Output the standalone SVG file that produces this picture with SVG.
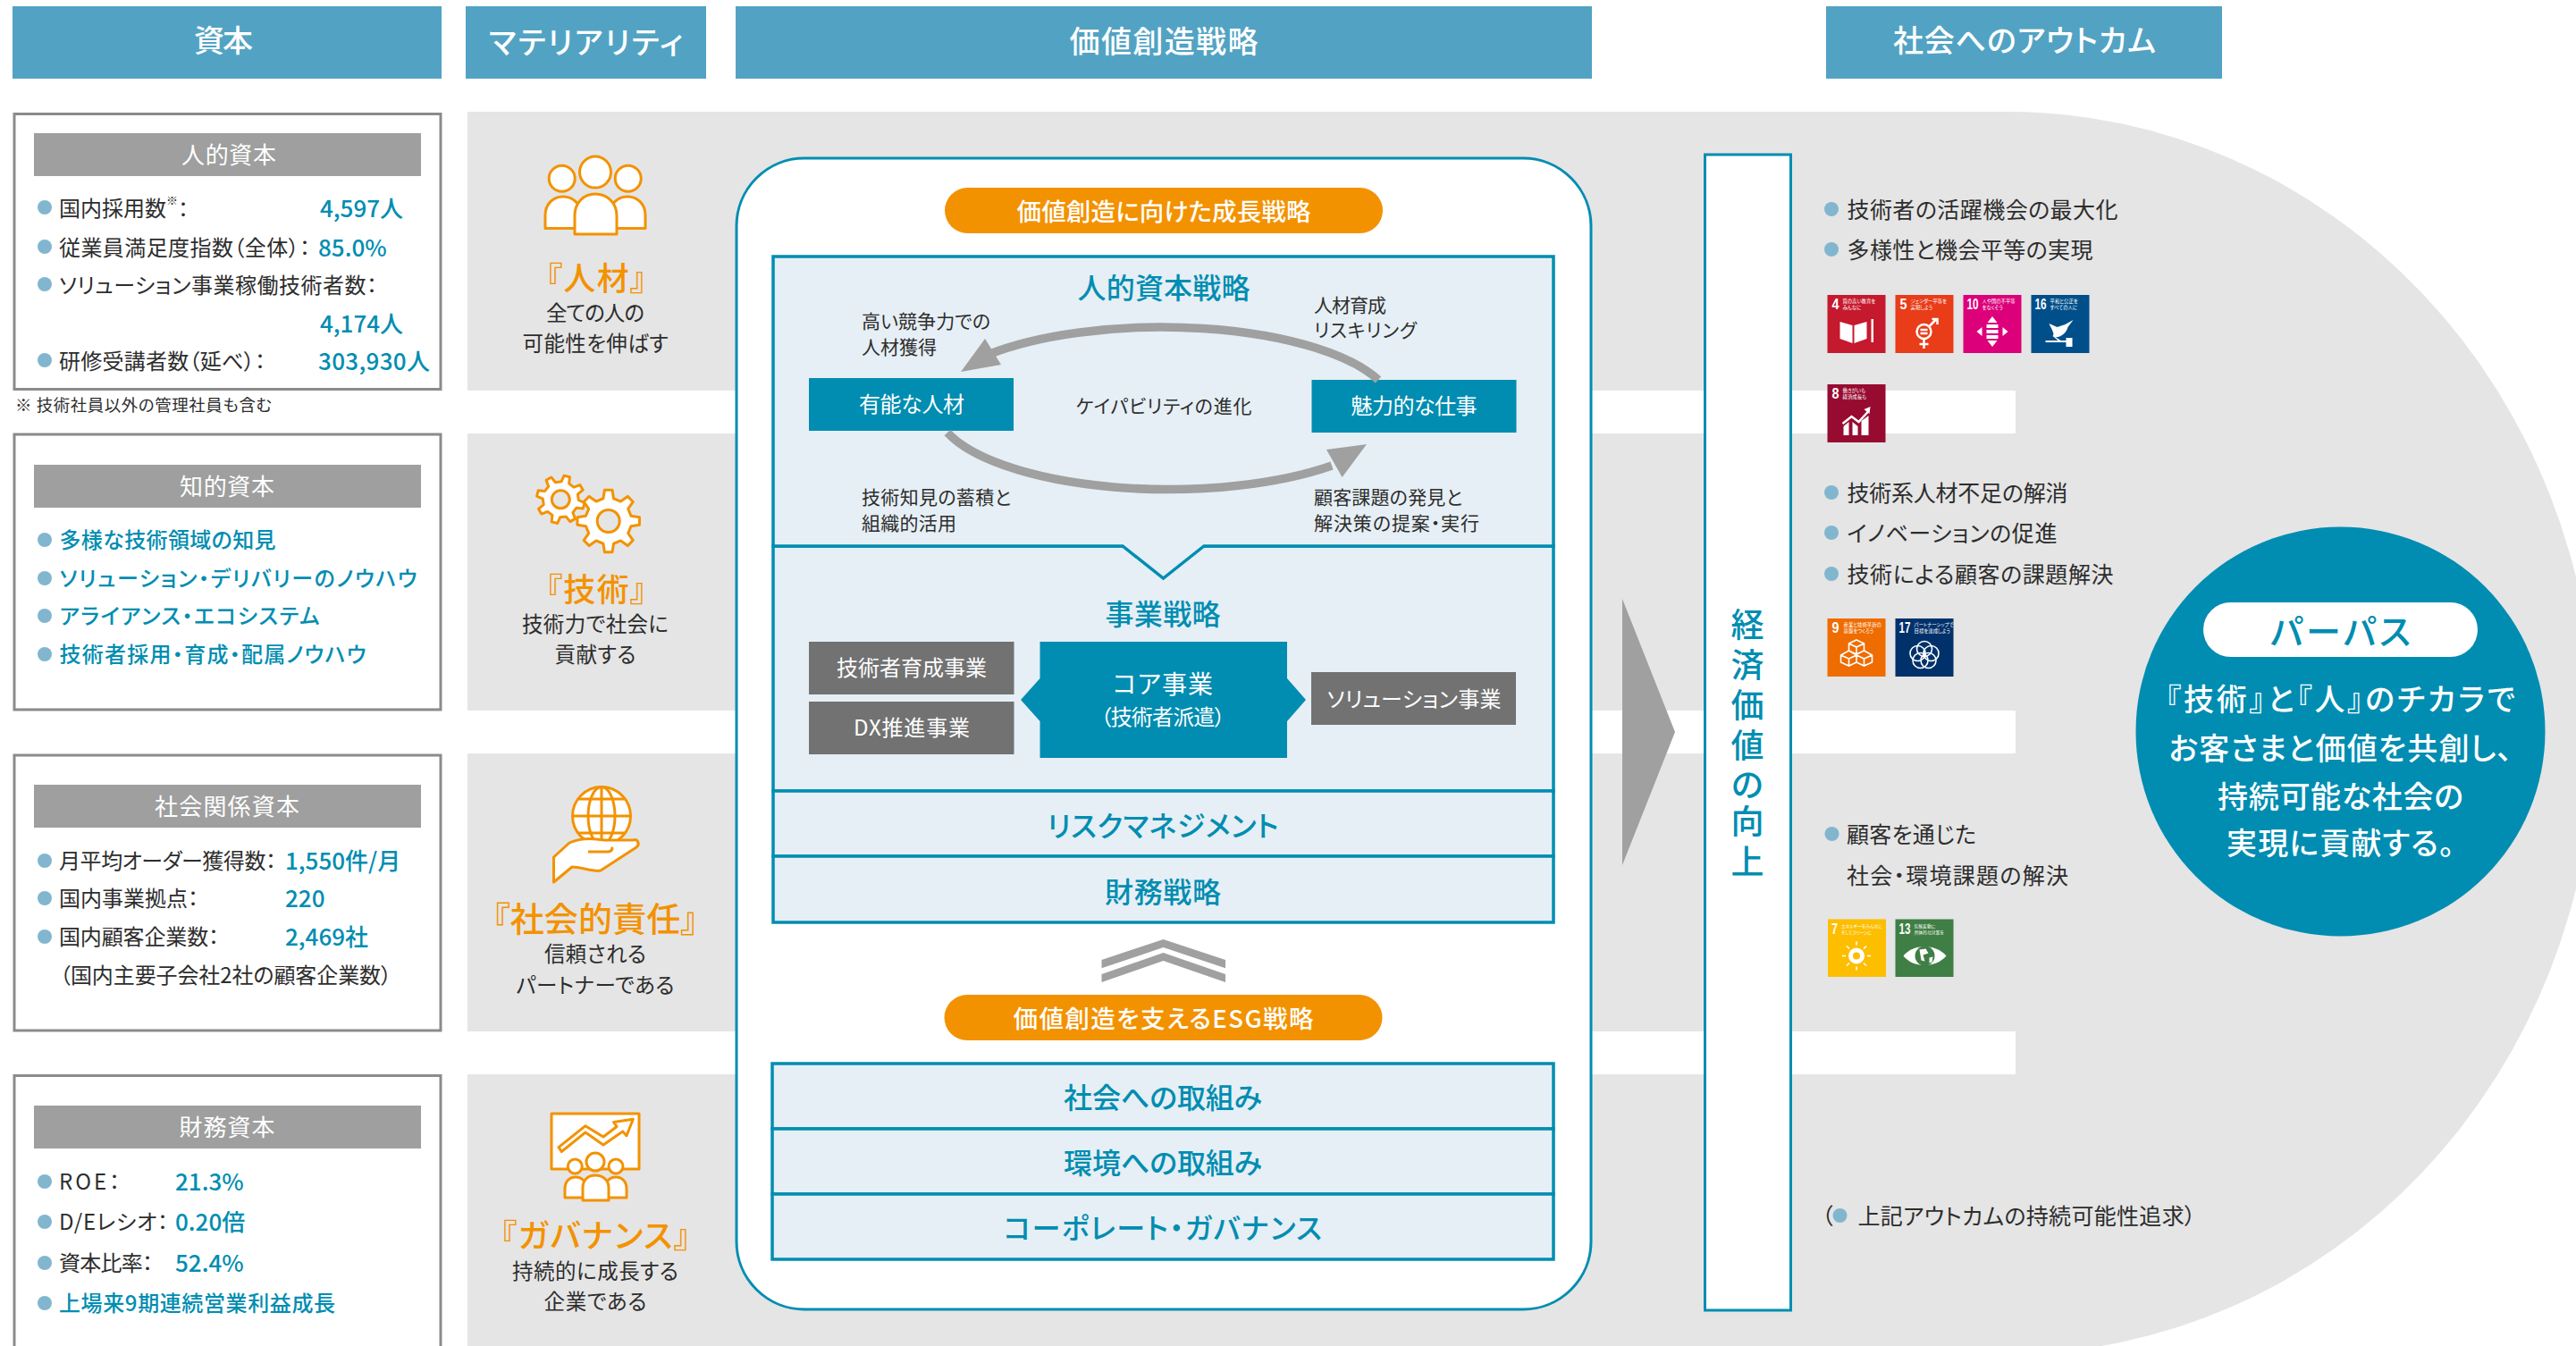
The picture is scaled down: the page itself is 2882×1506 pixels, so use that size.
<svg xmlns="http://www.w3.org/2000/svg" width="2882" height="1506" viewBox="0 0 2882 1506">
<style>
text{font-family:"Noto Sans CJK JP","Noto Sans",sans-serif;font-feature-settings:"palt";dominant-baseline:central;fill:#2d2d2d;transform:translateY(-1.5px)}
.m{text-anchor:middle}
.hd{fill:#52a3c3}.ht{font-size:34px;fill:#fff;text-anchor:middle;font-weight:500}
.box{fill:#fff;stroke:#8b8b8b;stroke-width:3}
.bar{fill:#9e9f9e}.bt{font-size:26px;fill:#fff;text-anchor:middle}
.dot{fill:#82b6cf}
.t24{font-size:24px}.t25{font-size:25px}.t21{font-size:21px}
.v{font-size:26px;fill:#008db1;font-weight:500}
.tb{font-size:24px;fill:#008db1;font-weight:500}
.mt{font-size:36px;fill:#f39200;text-anchor:middle;font-weight:500}
.ms{font-size:23.5px;text-anchor:middle}
.ic{fill:#fff;stroke:#f39200;stroke-width:3;stroke-linejoin:round}
.ln{fill:none;stroke:#f39200;stroke-width:3}
.pn{fill:#e6eff5;stroke:#008db1;stroke-width:3.5}
.pt{font-size:32px;fill:#008db1;text-anchor:middle;font-weight:500}
.pill{fill:#f39200}.plt{font-size:27.5px;fill:#fff;text-anchor:middle;font-weight:500}
.tl{fill:#008db1}.g{fill:#727272}
.wt{font-size:24px;fill:#fff;text-anchor:middle}
.arc{fill:none;stroke:#9fa09f;stroke-width:9.5}
.hv{fill:#9fa09f}
.pp{font-size:34px;fill:#fff;text-anchor:middle;font-weight:500}
.sn{font-family:"Liberation Sans",sans-serif;font-size:17px;font-weight:700;fill:#fff}
.st{font-size:5.4px;fill:#fff}
.wf{fill:#fff}.ws{fill:none;stroke:#fff;stroke-width:1.6}
</style>
<defs>
<path id="gear" d="M-12.19-99.25L12.19-99.25L16.65-72.1L39.21-62.76L61.57-78.8L78.8-61.57L62.76-39.21L72.1-16.65L99.25-12.19L99.25,12.19L72.1,16.65L62.76,39.21L78.8,61.57L61.57,78.8L39.21,62.76L16.65,72.1L12.19,99.25L-12.19,99.25L-16.65,72.1L-39.21,62.76L-61.57,78.8L-78.8,61.57L-62.76,39.21L-72.1,16.65L-99.25,12.19L-99.25-12.19L-72.1-16.65L-62.76-39.21L-78.8-61.57L-61.57-78.8L-39.21-62.76L-16.65-72.1Z"/>
</defs>
<rect width="2882" height="1506" fill="#fff"/>
<g id="background">
<path fill="#e5e5e5" d="M523,125H2245A658,695 0 0 1 2245,1515H523Z"/>
<rect x="523" y="437" width="1732" height="48" fill="#fff"/>
<rect x="523" y="795" width="1732" height="48" fill="#fff"/>
<rect x="523" y="1154" width="1732" height="48" fill="#fff"/>
</g>
<g id="headers">
<g id="header-capital"><rect class="hd" x="14" y="7" width="480" height="81"/><text class="ht" x="250" y="45" textLength="66">資本</text></g>
<g id="header-materiality"><rect class="hd" x="521" y="7" width="269" height="81"/><text class="ht" x="655.5" y="47" textLength="217">マテリアリティ</text></g>
<g id="header-strategy"><rect class="hd" x="823" y="7" width="958" height="81"/><text class="ht" x="1302" y="46" textLength="211">価値創造戦略</text></g>
<g id="header-outcome"><rect class="hd" x="2043" y="7" width="443" height="81"/><text class="ht" x="2265" y="45" textLength="294">社会へのアウトカム</text></g>
</g>
<g id="capital-human">
<rect class="box" x="16" y="127.5" width="477" height="308"/>
<rect class="bar" x="38" y="149" width="433" height="48"/><text class="bt" x="256" y="173" textLength="106">人的資本</text>
<ellipse class="dot" cx="50" cy="232" rx="8" ry="8"/><text class="t24" x="66" y="233">国内採用数<tspan font-size="13" dy="-9">※</tspan><tspan dy="9">：</tspan></text><text class="v" x="358" y="233">4,597人</text>
<ellipse class="dot" cx="50" cy="276" rx="8" ry="8"/><text class="t24" x="66" y="277" textLength="281">従業員満足度指数（全体）：</text><text class="v" x="356" y="277">85.0%</text>
<ellipse class="dot" cx="50" cy="318" rx="8" ry="8"/><text class="t24" x="66" y="319" textLength="356">ソリューション事業稼働技術者数：</text>
<text class="v" x="358" y="362">4,174人</text>
<ellipse class="dot" cx="50" cy="403" rx="8" ry="8"/><text class="t24" x="66" y="404" textLength="231">研修受講者数（延べ）：</text><text class="v" x="356" y="404" textLength="125">303,930人</text>
</g>
<text id="capital-note" x="17" y="453" font-size="18.5" textLength="287">※ 技術社員以外の管理社員も含む</text>
<g id="capital-intellectual">
<rect class="box" x="16" y="486" width="477" height="308"/>
<rect class="bar" x="38" y="520" width="433" height="48"/><text class="bt" x="254" y="544" textLength="106">知的資本</text>
<circle class="dot" cx="50" cy="604" r="8"/><text class="tb" x="66.5" y="604" textLength="242">多様な技術領域の知見</text>
<circle class="dot" cx="50" cy="647" r="8"/><text class="tb" x="66.5" y="647" textLength="400">ソリューション・デリバリーのノウハウ</text>
<circle class="dot" cx="50" cy="689" r="8"/><text class="tb" x="66.5" y="689" textLength="291">アライアンス・エコシステム</text>
<circle class="dot" cx="50" cy="732" r="8"/><text class="tb" x="66.5" y="732" textLength="343">技術者採用・育成・配属ノウハウ</text>
</g>
<g id="capital-social">
<rect class="box" x="16" y="845" width="477" height="308"/>
<rect class="bar" x="38" y="878" width="433" height="48"/><text class="bt" x="254" y="902" textLength="162">社会関係資本</text>
<circle class="dot" cx="50" cy="963" r="8"/><text class="t24" x="66" y="963" textLength="243">月平均オーダー獲得数：</text><text class="v" x="319" y="963">1,550件/月</text>
<circle class="dot" cx="50" cy="1005" r="8"/><text class="t24" x="66" y="1005" textLength="156">国内事業拠点：</text><text class="v" x="319" y="1005">220</text>
<circle class="dot" cx="50" cy="1048" r="8"/><text class="t24" x="66" y="1048" textLength="179">国内顧客企業数：</text><text class="v" x="319" y="1048">2,469社</text>
<text class="t24" x="67" y="1091" textLength="371">（国内主要子会社2社の顧客企業数）</text>
</g>
<g id="capital-financial">
<rect class="box" x="16" y="1203.5" width="477" height="320"/>
<rect class="bar" x="38" y="1237" width="433" height="48"/><text class="bt" x="254" y="1261" textLength="107">財務資本</text>
<circle class="dot" cx="50" cy="1322" r="8"/><text class="t24" x="66" y="1322" textLength="68">ROE：</text><text class="v" x="196" y="1322">21.3%</text>
<circle class="dot" cx="50" cy="1367" r="8"/><text class="t24" x="66" y="1367" textLength="122">D/Eレシオ：</text><text class="v" x="196" y="1367">0.20倍</text>
<circle class="dot" cx="50" cy="1413" r="8"/><text class="t24" x="66" y="1413" textLength="105">資本比率：</text><text class="v" x="196" y="1413">52.4%</text>
<circle class="dot" cx="50" cy="1458" r="8"/><text class="tb" x="66" y="1458" textLength="309">上場来9期連続営業利益成長</text>
</g>
<g id="materiality-people">
<circle class="ic" cx="628.7" cy="199.8" r="14.5"/><circle class="ic" cx="702.7" cy="199.8" r="14.5"/>
<path class="ic" d="M610,255.5V241C610,228 619,220 630,220C641,220 650,228 650,241V255.5Z"/>
<path class="ic" d="M682,255.5V241C682,228 691,220 702,220C713,220 722,228 722,241V255.5Z"/>
<circle class="ic" cx="666" cy="192.6" r="17.5"/>
<path class="ic" d="M643,262V241C643,227 653,217 666,217C679,217 690,227 690,241V262Z"/>
<text class="mt" x="667" y="310" textLength="112">『人材』</text>
<text class="ms" x="666" y="350" textLength="110">全ての人の</text><text class="ms" x="666" y="384" textLength="163">可能性を伸ばす</text>
</g>
<g id="materiality-technology">
<use href="#gear" class="ic" style="stroke-width:11" transform="translate(627.3 558.8) rotate(15) scale(.27)"/>
<circle class="ln" cx="627.3" cy="558.8" r="10" style="fill:#e5e5e5"/>
<use href="#gear" class="ic" style="stroke-width:8.6" transform="translate(680.7 583) scale(.35)"/>
<circle class="ln" cx="680.7" cy="583" r="12.5" style="fill:#e5e5e5"/>
<text class="mt" x="667" y="658" textLength="112">『技術』</text>
<text class="ms" x="666" y="698" textLength="164">技術力で社会に</text><text class="ms" x="666" y="732" textLength="91">貢献する</text>
</g>
<g id="materiality-social">
<circle class="ic" cx="673" cy="913" r="32.5"/>
<ellipse class="ln" cx="673" cy="913" rx="15" ry="32.5"/>
<path class="ln" d="M673,880.5V945.5M640.5,913H705.5M646,894H700M646,932H700"/>
<path class="ic" d="M619.5,987V959L637,943C650,937 665,938 676,940L708,940C714,938 716,945 712,948L672,974C665,976 650,970 640,970Z"/>
<path class="ln" d="M658,953H680C684,953 686,950 684,948"/>
<text class="mt" style="font-size:38px" x="666" y="1027" textLength="229">『社会的責任』</text>
<text class="ms" x="666" y="1067" textLength="114">信頼される</text><text class="ms" x="666" y="1102" textLength="177">パートナーである</text>
</g>
<g id="materiality-governance">
<rect class="ic" x="617" y="1246" width="98" height="62"/>
<path class="ic" d="M625,1283.6L655,1259.7L675,1272L690,1260.5L686.7,1255.6L708.3,1252.3L701,1270.8L696.7,1265.9L675,1281L655,1267L628.3,1288.5Z"/>
<circle class="ic" cx="643.3" cy="1305" r="8"/><circle class="ic" cx="689" cy="1305" r="8"/>
<path class="ic" d="M632,1340V1330C632,1322 637,1317 644,1317C651,1317 656,1322 656,1330V1340Z"/>
<path class="ic" d="M677,1340V1330C677,1322 682,1317 689,1317C696,1317 701,1322 701,1330V1340Z"/>
<circle class="ic" cx="666" cy="1300" r="10"/>
<path class="ic" d="M652,1343V1329C652,1320 658,1315 666,1315C674,1315 681,1320 681,1329V1343Z"/>
<text class="mt" x="666" y="1381" textLength="212">『ガバナンス』</text>
<text class="ms" x="666" y="1422" textLength="186">持続的に成長する</text><text class="ms" x="666" y="1456" textLength="115">企業である</text>
</g>
<g id="strategy">
<rect x="824" y="177" width="956" height="1288" rx="76" ry="76" fill="#fff" stroke="#008db1" stroke-width="3"/>
<g id="pill-growth"><rect class="pill" x="1057" y="210" width="490" height="51" rx="25.5"/><text class="plt" x="1302" y="236" textLength="329">価値創造に向けた成長戦略</text></g>
<g id="panel-business">
<rect class="pn" x="865" y="611" width="873" height="274"/>
<text class="pt" x="1301" y="686" textLength="129">事業戦略</text>
</g>
<g id="panel-human">
<path class="pn" d="M865,611V287H1738V611H1347L1301.5,647L1256,611Z"/>
<text class="pt" x="1302" y="321" textLength="193">人的資本戦略</text>
<text class="t21" x="964" y="359" textLength="144">高い競争力での</text><text class="t21" x="964" y="388" textLength="84">人材獲得</text>
<text class="t21" x="1470" y="341" textLength="81">人材育成</text><text class="t21" x="1470" y="369" textLength="115">リスキリング</text>
<text class="t21 m" x="1302" y="454" textLength="197">ケイパビリティの進化</text>
<text class="t21" x="964" y="556" textLength="167">技術知見の蓄積と</text><text class="t21" x="964" y="585" textLength="106">組織的活用</text>
<text class="t21" x="1470" y="556" textLength="166">顧客課題の発見と</text><text class="t21" x="1470" y="585" textLength="185">解決策の提案・実行</text>
</g>
<g id="panel-risk"><rect class="pn" x="865" y="885" width="873" height="73"/><text class="pt" x="1301" y="923" textLength="259">リスクマネジメント</text></g>
<g id="panel-finance"><rect class="pn" x="865" y="958" width="873" height="74"/><text class="pt" x="1301" y="997" textLength="130">財務戦略</text></g>
<g id="node-talent"><rect class="tl" x="905" y="423" width="229" height="59"/><text class="wt" x="1020" y="452" textLength="118">有能な人材</text></g>
<g id="node-work"><rect class="tl" x="1467.5" y="425" width="229" height="59"/><text class="wt" x="1582" y="454" textLength="141">魅力的な仕事</text></g>
<g id="node-training"><rect class="g" x="905" y="718" width="229.500" height="59"/><text class="wt" x="1020" y="747" textLength="168">技術者育成事業</text></g>
<g id="node-dx"><rect class="g" x="905" y="785" width="229.500" height="59"/><text class="wt" x="1020" y="814" textLength="130">DX推進事業</text></g>
<g id="node-core"><path class="tl" d="M1163.500,718H1440V759L1461,783L1440,807V848H1163.500V807L1142,783L1163.500,759Z"/><text class="wt" style="font-size:28px" x="1301" y="765" textLength="112">コア事業</text><text class="wt" x="1301" y="802" textLength="139">（技術者派遣）</text></g>
<g id="node-solution"><rect class="g" x="1467" y="752" width="229" height="59"/><text class="wt" x="1582" y="782" textLength="195">ソリューション事業</text></g>
<g id="chevrons"><path class="hv" d="M1301.500,1051L1371,1074V1083.300L1301.500,1060L1232.500,1083.300V1074Z"/><path class="hv" d="M1301.500,1066L1371,1090V1099L1301.500,1075L1232.500,1099V1090Z"/></g>
<g id="pill-esg"><rect class="pill" x="1056.500" y="1113" width="490" height="51" rx="25.500"/><text class="plt" x="1301.500" y="1139" textLength="336">価値創造を支えるESG戦略</text></g>
<g id="panel-society"><rect class="pn" x="864" y="1190" width="874" height="73"/><text class="pt" x="1301" y="1227" textLength="222">社会への取組み</text></g>
<g id="panel-environment"><rect class="pn" x="864" y="1263" width="874" height="73"/><text class="pt" x="1301" y="1300" textLength="222">環境への取組み</text></g>
<g id="panel-governance"><rect class="pn" x="864" y="1336" width="874" height="73"/><text class="pt" x="1301" y="1373" textLength="356">コーポレート・ガバナンス</text></g>
</g>
<g id="connectors">
<path class="arc" d="M1542,425A260,92 0 0 0 1105,397"/>
<path class="hv" d="M1075,416L1102,379L1120,408Z"/>
<path class="arc" d="M1060,484A260,92 0 0 0 1490,521"/>
<path class="hv" d="M1529,497L1484,503L1501.600,534Z"/>
<path class="hv" d="M1815,670L1874,819L1815,968Z"/>
</g>
<g id="economic-value">
<rect x="1907.500" y="173" width="96" height="1293" fill="#fff" stroke="#008db1" stroke-width="3"/>
<text x="1955 1955 1955 1955 1955 1955 1955" y="698 743 788 833 877 918 963" style="font-size:37px;fill:#008db1;text-anchor:middle;font-weight:500">経済価値の向上</text>
</g>
<g id="outcome-1">
<circle class="dot" cx="2049" cy="234" r="8"/><text class="t25" x="2066.500" y="234" textLength="303">技術者の活躍機会の最大化</text>
<circle class="dot" cx="2049" cy="279" r="8"/><text class="t25" x="2066.500" y="279" textLength="275">多様性と機会平等の実現</text>
<g transform="translate(2044.500 330)"><rect width="65" height="65" fill="#c5192d"/><text class="sn" x="5" y="12" textLength="8" lengthAdjust="spacingAndGlyphs">4</text><text class="st" x="17" y="8">質の高い教育を</text><text class="st" x="17" y="15">みんなに</text><path class="wf" d="M14,30L28,34V54L14,49ZM30,34L44,30V49L30,54Z"/><rect class="wf" x="49" y="27" width="2.500" height="26"/></g>
<g transform="translate(2120.500 330)"><rect width="65" height="65" fill="#e93c19"/><text class="sn" x="5" y="12" textLength="8" lengthAdjust="spacingAndGlyphs">5</text><text class="st" x="17" y="8">ジェンダー平等を</text><text class="st" x="17" y="15">実現しよう</text><circle class="ws" style="stroke-width:2.500" cx="32" cy="41" r="8"/><path class="ws" style="stroke-width:2.500" d="M32,49V60M27,55H37M38,35L46,27M41,27H47V33M28,39H36M28,43H36"/></g>
<g transform="translate(2196.500 330)"><rect width="65" height="65" fill="#dc007a"/><text class="sn" x="4" y="12" textLength="13" lengthAdjust="spacingAndGlyphs">10</text><text class="st" x="21" y="8">人や国の不平等</text><text class="st" x="21" y="15">をなくそう</text><path class="wf" d="M32.500,24L38,31H27ZM32.500,58L38,51H27ZM15,41L21,36V46ZM50,41L44,36V46ZM26,33H39V37H26ZM26,39H39V43H26ZM26,45H39V49H26Z"/></g>
<g transform="translate(2272.500 330)"><rect width="65" height="65" fill="#004f8a"/><text class="sn" x="4" y="12" textLength="13" lengthAdjust="spacingAndGlyphs">16</text><text class="st" x="21" y="8">平和と公正を</text><text class="st" x="21" y="15">すべての人に</text><path class="wf" d="M20,32L29,36L38,33L47,28L41,36C39,44 31,48 27,47L33,51H30L24,46C27,44 22,37 20,32Z"/><path class="wf" d="M16,51H40V53H16ZM39,48H46V58H39Z"/></g>
<g transform="translate(2044.500 430)"><rect width="65" height="65" fill="#970b31"/><text class="sn" x="5" y="12" textLength="8" lengthAdjust="spacingAndGlyphs">8</text><text class="st" x="17" y="8">働きがいも</text><text class="st" x="17" y="15">経済成長も</text><path class="wf" d="M18,47L24,42V57H18ZM28,42L34,47V57H28ZM38,41L46,35V57H38Z"/><path class="ws" style="stroke-width:2.500" d="M17,44L27,36L35,42L46,30"/><path class="wf" d="M41,28L48,25L47,33Z"/></g>
</g>
<g id="outcome-2">
<circle class="dot" cx="2049" cy="551" r="8"/><text class="t25" x="2066.500" y="551" textLength="247">技術系人材不足の解消</text>
<circle class="dot" cx="2049" cy="596" r="8"/><text class="t25" x="2066.500" y="596" textLength="235">イノベーションの促進</text>
<circle class="dot" cx="2049" cy="642" r="8"/><text class="t25" x="2066.500" y="642" textLength="298">技術による顧客の課題解決</text>
<g transform="translate(2044.500 692)"><rect width="65" height="65" fill="#ef6c00"/><text class="sn" x="5" y="12" textLength="8" lengthAdjust="spacingAndGlyphs">9</text><text class="st" x="18" y="8">産業と技術革新の</text><text class="st" x="18" y="15">基盤をつくろう</text><path class="ws" d="M32.500,24L41,28V36L32.500,40L24,36V28ZM24,28L32.500,32L41,28M32.500,32V40M24,36L15,41V49L24,53L32.500,49V41L24,36M15,41L24,45L32.500,41M24,45V53M41,36L50,41V49L41,53L32.500,49M32.500,41L41,45L50,41M41,45V53"/></g>
<g transform="translate(2120.500 692)"><rect width="65" height="65" fill="#00316b"/><text class="sn" x="4" y="12" textLength="13" lengthAdjust="spacingAndGlyphs">17</text><text class="st" x="21" y="8">パートナーシップで</text><text class="st" x="21" y="15">目標を達成しよう</text><g class="ws"><circle cx="32.500" cy="34" r="8.500"/><circle cx="40" cy="39" r="8.500"/><circle cx="37" cy="47" r="8.500"/><circle cx="28" cy="47" r="8.500"/><circle cx="25" cy="39" r="8.500"/></g></g>
</g>
<g id="outcome-3">
<circle class="dot" cx="2049.500" cy="933" r="8"/><text class="t25" x="2066" y="933" textLength="145">顧客を通じた</text><text class="t25" x="2066" y="979" textLength="248">社会・環境課題の解決</text>
<g transform="translate(2045 1028.500)"><rect width="65" height="64.500" fill="#fdbe00"/><text class="sn" x="4" y="12" textLength="7" lengthAdjust="spacingAndGlyphs">7</text><text class="st" style="font-size:4.800px" x="15" y="8">エネルギーをみんなに</text><text class="st" style="font-size:4.800px" x="15" y="15">そしてクリーンに</text><circle class="wf" cx="32" cy="41" r="9"/><circle cx="32" cy="41" r="4" fill="#fdbe00"/><path class="ws" d="M32,25V29M32,53V57M16,41H20M44,41H48M21,30L24,33M40,49L43,52M43,30L40,33M24,49L21,52"/></g>
<g transform="translate(2120.500 1028.500)"><rect width="65" height="64.500" fill="#3f7e44"/><text class="sn" x="4" y="12" textLength="13" lengthAdjust="spacingAndGlyphs">13</text><text class="st" style="font-size:4.800px" x="21" y="8">気候変動に</text><text class="st" style="font-size:4.800px" x="21" y="15">具体的な対策を</text><path class="wf" d="M9,41C20,27 45,27 57,41C45,55 20,55 9,41Z"/><circle cx="33" cy="41" r="11" fill="#3f7e44"/><path class="wf" d="M27,34L34,33L37,38L31,40L33,47L29,46ZM38,43L42,42L41,48L38,49Z"/></g>
</g>
<g id="outcome-4">
<text class="t25" x="2038" y="1360">（</text><circle class="dot" cx="2058.500" cy="1360" r="8"/><text class="t25" x="2078.500" y="1360" textLength="378">上記アウトカムの持続可能性追求）</text>
</g>
<g id="purpose">
<circle cx="2618.500" cy="818.500" r="229" fill="#008db1"/>
<rect x="2465" y="674" width="307" height="61" rx="30.500" fill="#fff"/>
<text x="2618.500" y="705" style="font-size:39px;fill:#008db1;text-anchor:middle;font-weight:500" textLength="157">パーパス</text>
<text class="pp" x="2618.500" y="782" textLength="391">『技術』と『人』のチカラで</text>
<text class="pp" x="2618.500" y="837" textLength="384">お客さまと価値を共創し、</text>
<text class="pp" x="2618.500" y="891" textLength="275">持続可能な社会の</text>
<text class="pp" x="2618.500" y="943" textLength="255">実現に貢献する。</text>
</g>
</svg>
